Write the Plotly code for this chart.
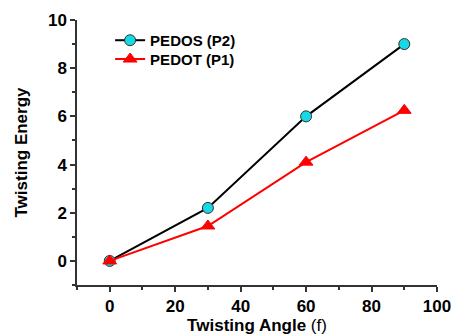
import plotly.graph_objects as go

angles = [0, 30, 60, 90]
pedos_p2 = [0.0, 2.2, 6.0, 9.0]
pedot_p1 = [0.0, 1.45, 4.1, 6.25]

FONT = "Liberation Sans, Arial, sans-serif"

fig = go.Figure()
fig.add_trace(go.Scatter(
    x=angles, y=pedos_p2, name="<b>PEDOS (P2)</b>", mode="lines+markers",
    line=dict(color="black", width=2),
    marker=dict(symbol="circle", size=11, color="#16d9e3", line=dict(color="#333333", width=1)),
    legend="legend", showlegend=True,
))
fig.add_trace(go.Scatter(
    x=angles, y=pedot_p1, name="<b>PEDOT (P1)</b>", mode="lines+markers",
    line=dict(color="#ff0000", width=2),
    marker=dict(symbol="triangle-up", size=12, color="#ff0000", line=dict(color="#ff0000", width=1)),
    legend="legend2", showlegend=True,
))

axis_common = dict(
    showline=True, linecolor="#333333", linewidth=1.5, mirror=False,
    ticks="outside", ticklen=5, tickwidth=1.5, tickcolor="#333333",
    showgrid=False, zeroline=False, automargin=False,
    tickfont=dict(family=FONT, size=17, color="black", weight="bold"),
)

fig.update_xaxes(
    range=[-10, 100], tickvals=[0, 20, 40, 60, 80, 100],
    minor=dict(ticks="outside", ticklen=3, tickwidth=1.5, tickcolor="#333333", dtick=10, tick0=0),
    title=dict(text="<b>Twisting Angle</b> (f)", font=dict(family=FONT, size=17, color="black"), standoff=4),
    **axis_common,
)
fig.update_yaxes(
    range=[-1, 10], tickvals=[0, 2, 4, 6, 8, 10],
    minor=dict(ticks="outside", ticklen=3, tickwidth=1.5, tickcolor="#333333", dtick=1, tick0=0),
    title=dict(text="<b>Twisting Energy</b>", font=dict(family=FONT, size=17, color="black"), standoff=16),
    **axis_common,
)

leg_common = dict(xanchor="left", yanchor="top", visible=True,
                  font=dict(family=FONT, size=15, color="black"),
                  bgcolor="rgba(0,0,0,0)", itemwidth=30)

fig.update_layout(
    width=453, height=335,
    margin=dict(l=77, r=16, t=20, b=50),
    plot_bgcolor="white", paper_bgcolor="white",
    showlegend=True,
    legend=dict(x=0.092, y=0.985, **leg_common),
    legend2=dict(x=0.092, y=0.914, **leg_common),
)

fig.write_html("out.html", config={"displayModeBar": False},
               post_script="document.body.style.margin='0';document.body.style.padding='0';")
